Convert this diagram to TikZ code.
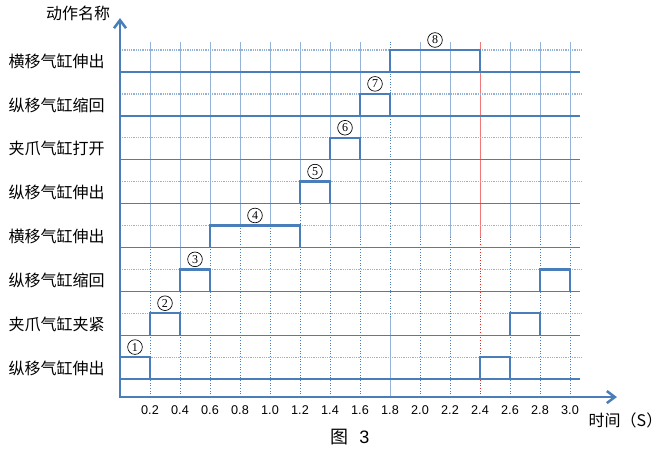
\documentclass[tikz,border=0pt]{standalone}
\usepackage{fontspec}
\setmainfont{Liberation Sans}
\newfontfamily\serifa{Liberation Serif}
\newfontfamily\cjk{Noto Sans CJK SC}
\usepackage{tikz}
\usetikzlibrary{arrows.meta}
\definecolor{azulescuro}{RGB}{74,126,187}
\definecolor{azulclaro}{RGB}{149,179,215}
\definecolor{vermelhoclaro}{RGB}{240,120,120}
\definecolor{vermelho}{RGB}{230,40,40}
\tikzset{
  eixo/.style={arrows={Straight Barb[length=6pt,width=9pt]-Straight Barb[length=6pt,width=9pt]},
    line width=1.9pt,azulescuro,line join=miter},
  base/.style={line width=1pt,azulescuro},
  alto/.style={line width=0.9pt,azulclaro,dash pattern=on 0.75pt off 0.6pt},
  grade/.style={line width=0.75pt,azulclaro},
  gradept/.style={line width=0.7pt,azulescuro,dash pattern=on 0.7pt off 1.3pt},
  pulso/.style={line width=1.8pt,azulescuro},
  rotulo/.style={anchor=east,inner sep=0pt,font=\cjk\fontsize{12}{13}\selectfont},
  marca/.style={inner sep=0pt,font=\fontsize{9.5}{11}\selectfont},
  numero/.style={circle,draw=black,line width=0.5pt,minimum size=11pt,inner sep=0pt,
    font=\serifa\fontsize{9}{9}\selectfont}
}

\begin{document}
\begin{tikzpicture}[x=112.5pt,y=32.9pt]
  \useasboundingbox (-0.8,-1.231) rectangle (3.62,9.052);
  % grade vertical
  \foreach \t/\c in {0.2/3.40,0.4/2.92,0.6/3.90,0.8/3.90,1.0/3.90,1.2/4.90,1.4/3.65,
      1.6/3.65,2.0/3.65,2.2/3.65,2.6/3.65,2.8/3.65,3.0/3.65}
    {\draw[grade] (\t,\c) -- (\t,8.09);
     \draw[gradept] (\t,0) -- (\t,\c);}
  \draw[grade] (1.8,0) -- (1.8,1.82);
  \draw[gradept] (1.8,1.82) -- (1.8,8.09);
  \draw[vermelhoclaro,line width=0.75pt] (2.4,3.65) -- (2.4,8.09);
  \draw[vermelho,line width=0.7pt,dash pattern=on 0.7pt off 1.3pt] (2.4,0) -- (2.4,3.65);
  % linhas de base e nivel alto
  \foreach \i in {0,...,7}
    {\draw[alto] (0,\i+0.91) -- (3.08,\i+0.91);
     \draw[base] (0,\i+0.41) -- (3.067,\i+0.41);}
  % rotulos das acoes
  \foreach \i/\lab in {0/纵移气缸伸出,1/夹爪气缸夹紧,2/纵移气缸缩回,3/横移气缸伸出,
      4/纵移气缸伸出,5/夹爪气缸打开,6/纵移气缸缩回,7/横移气缸伸出}
    {\node[rotulo] (r\i) at (-0.1,\i+0.66) {\lab};}
  % pulsos
  \foreach \i/\a/\b in {0/0/0.2,1/0.2/0.4,2/0.4/0.6,3/0.6/1.2,4/1.2/1.4,5/1.4/1.6,
      6/1.6/1.8,7/1.8/2.4,0/2.4/2.6,1/2.6/2.8,2/2.8/3.0}
    {\draw[pulso] (\a,\i+0.41) |- (\b,\i+0.91) -- (\b,\i+0.41);}
  \foreach \n/\i/\a/\b in {1/0/0/0.2,2/1/0.2/0.4,3/2/0.4/0.6,4/3/0.6/1.2,5/4/1.2/1.4,
      6/5/1.4/1.6,7/6/1.6/1.8,8/7/1.8/2.4}
    {\node[numero] (n\n) at ({(\a+\b)/2},\i+1.14) {\n};}
  % eixos
  \coordinate (origem) at (0,0);
  \coordinate (topoy) at (0,8.64);
  \coordinate (fimx) at (3.313,0);
  \draw[eixo] (topoy) -- (origem) -- (fimx);
  \foreach \t [count=\k] in {0.2,0.4,0.6,0.8,1.0,1.2,1.4,1.6,1.8,2.0,2.2,2.4,2.6,2.8,3.0}
    {\node[marca] (m\k) at (\t,-0.296) {\t};}
  \node[font=\cjk\fontsize{12}{13}\selectfont,inner sep=0pt] (nomey) at (-0.28,8.755) {动作名称};
  \node[font=\cjk\fontsize{12}{13}\selectfont,inner sep=0pt] (nomex) at (3.37,-0.524) {时间（S）};
  \node[font=\fontsize{13.5}{15}\selectfont,inner sep=0pt] (titulo) at (1.533,-0.912) {{\cjk 图}\hspace{8pt}3};
\end{tikzpicture}
\end{document}
